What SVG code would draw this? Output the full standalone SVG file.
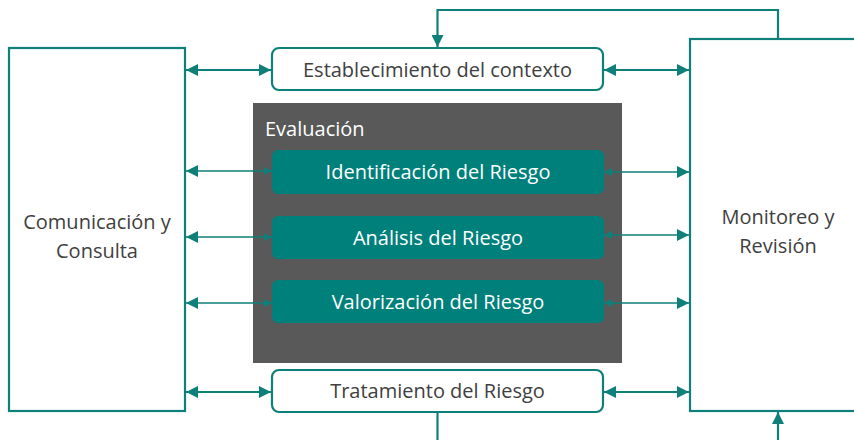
<svg xmlns="http://www.w3.org/2000/svg" width="854" height="440" viewBox="0 0 854 440">
<style>
.box{fill:#fff;stroke:#0f7f7a;stroke-width:2.2}
.tb{fill:#00807a}
.t{font-family:"Open Sans","Noto Sans",sans-serif;font-size:20px;fill:#404040;text-anchor:middle}
.w{fill:#fff}
.c{fill:none;stroke:#0f7f7a;stroke-width:2.2}
.c2{fill:none;stroke:#0f7f7a;stroke-width:1.6}
</style>
<defs>
<marker id="a" viewBox="0 0 10 10" refX="10" refY="5" markerWidth="12" markerHeight="12" markerUnits="userSpaceOnUse" orient="auto-start-reverse"><path d="M0,0L10,5L0,10z" fill="#0f7f7a"/></marker>
<marker id="s" viewBox="0 0 10 10" refX="10" refY="5" markerWidth="8" markerHeight="8" markerUnits="userSpaceOnUse" orient="auto-start-reverse"><path d="M0,0L10,5L0,10z" fill="#0f7f7a"/></marker>
</defs>
<g id="comunicacion"><rect class="box" x="9" y="48" width="176" height="363"/><text class="t" x="97" y="229">Comunicación y</text><text class="t" x="97" y="258">Consulta</text></g>
<g id="monitoreo"><rect class="box" x="690" y="39" width="180" height="372"/><text class="t" x="778" y="224">Monitoreo y</text><text class="t" x="778" y="253">Revisión</text></g>
<g id="establecimiento"><rect class="box" x="272" y="48" width="331" height="42" rx="7"/><text class="t" x="437.5" y="77">Establecimiento del contexto</text></g>
<g id="evaluacion"><rect x="253" y="103" width="369" height="260" fill="#595959"/><text class="t w" x="265" y="136" style="text-anchor:start">Evaluación</text></g>
<g id="identificacion"><rect class="tb" x="272" y="150" width="332" height="44" rx="6"/><text class="t w" x="438" y="179">Identificación del Riesgo</text></g>
<g id="analisis"><rect class="tb" x="272" y="216" width="332" height="43" rx="6"/><text class="t w" x="438" y="245">Análisis del Riesgo</text></g>
<g id="valorizacion"><rect class="tb" x="272" y="280" width="332" height="43" rx="6"/><text class="t w" x="438" y="309">Valorización del Riesgo</text></g>
<g id="tratamiento"><rect class="box" x="272" y="370" width="331" height="42" rx="7"/><text class="t" x="437.5" y="398">Tratamiento del Riesgo</text></g>
<g id="connectors">
<path class="c" d="M186,70H271" marker-start="url(#a)" marker-end="url(#a)"/>
<path class="c" d="M604,70H689" marker-start="url(#a)" marker-end="url(#a)"/>
<path class="c" d="M186,392H271" marker-start="url(#a)" marker-end="url(#a)"/>
<path class="c" d="M604,392H689" marker-start="url(#a)" marker-end="url(#a)"/>
<path class="c2" d="M186,171H272" marker-start="url(#a)" marker-end="url(#s)"/>
<path class="c2" d="M186,237H272" marker-start="url(#a)" marker-end="url(#s)"/>
<path class="c2" d="M186,303H272" marker-start="url(#a)" marker-end="url(#s)"/>
<path class="c2" d="M604,172H689" marker-start="url(#s)" marker-end="url(#a)"/>
<path class="c2" d="M604,235H689" marker-start="url(#s)" marker-end="url(#a)"/>
<path class="c2" d="M604,303H689" marker-start="url(#s)" marker-end="url(#a)"/>
<path class="c" d="M778,39V10H437.5V47" marker-end="url(#a)"/>
<path class="c" d="M437.5,412V445"/>
<path class="c" d="M778,445V412" marker-end="url(#a)"/>
</g>
</svg>
